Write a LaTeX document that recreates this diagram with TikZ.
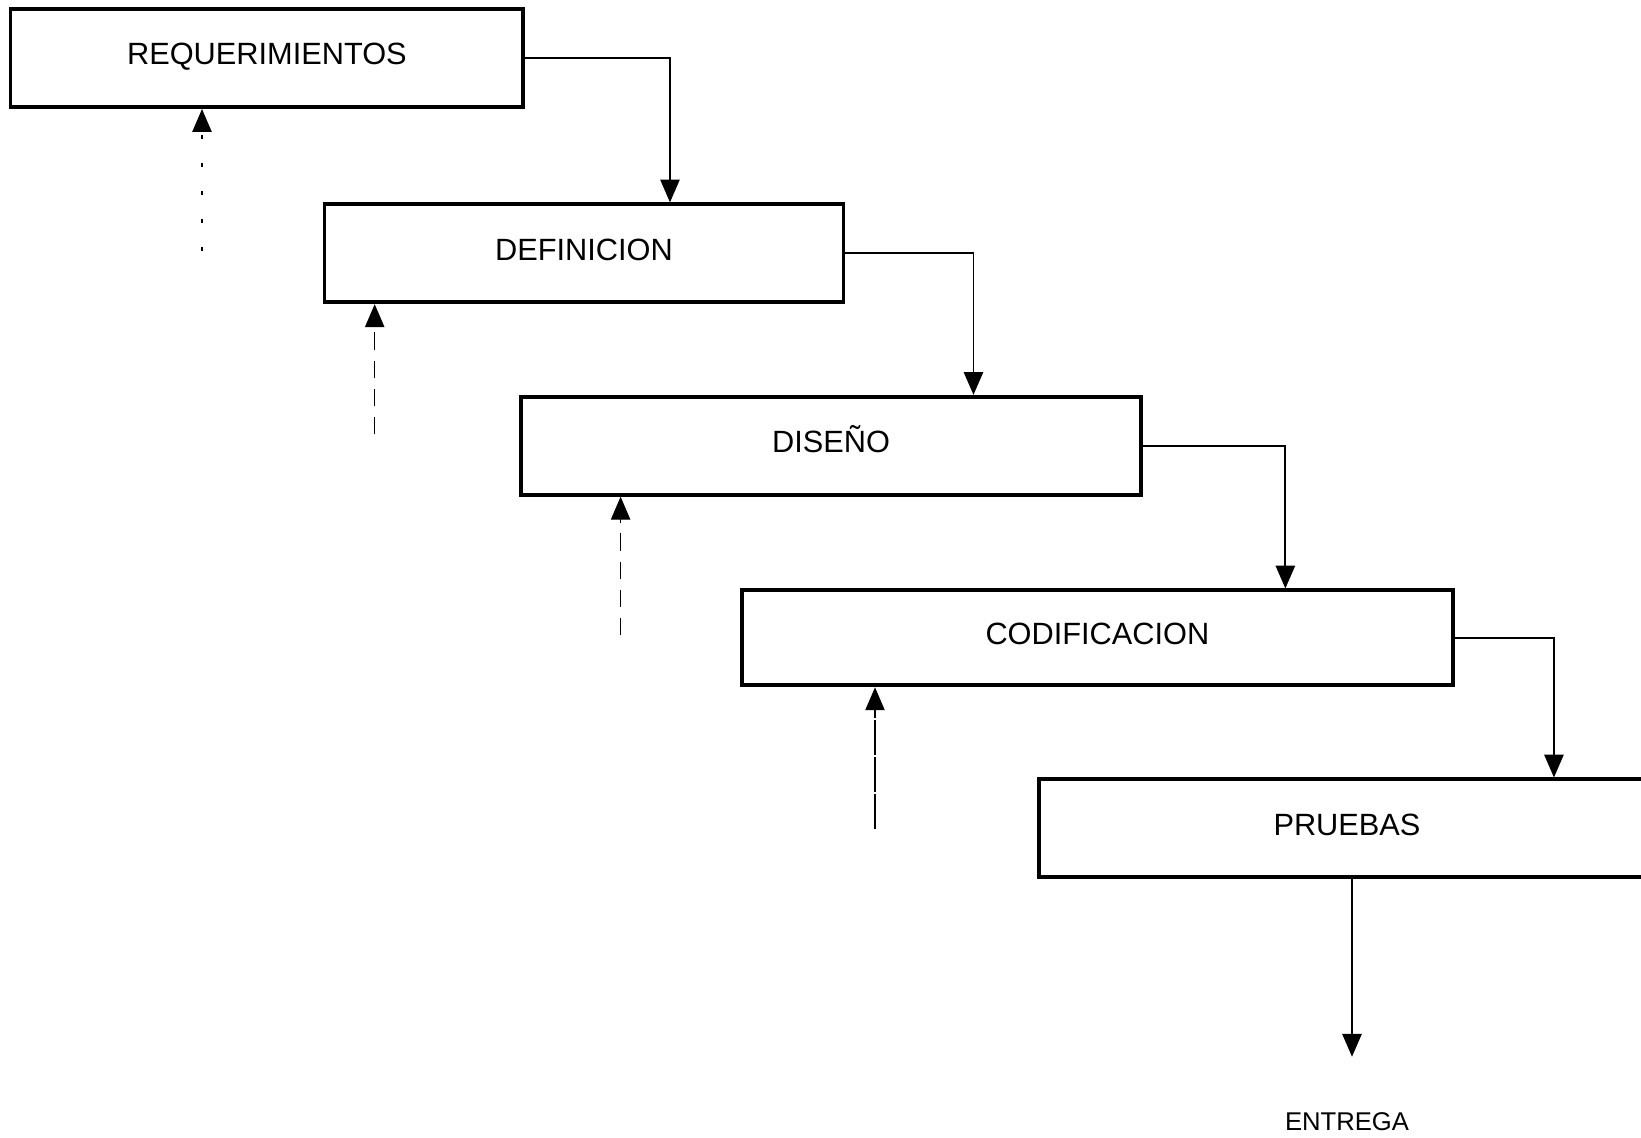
\documentclass[tikz,border=0pt]{standalone}
\usepackage{fontspec}
\setmainfont{Liberation Sans}
\usetikzlibrary{positioning}
\usetikzlibrary{arrows.meta}

\begin{document}
\begin{tikzpicture}[x=0.02cm,y=-0.02cm,>={Triangle[width=11pt,length=13pt]}]
\tikzstyle{etapa}=[rectangle,
  draw=black,line width=2.2pt,fill=white,text=black,
  font=\fontsize{17.5}{21}\selectfont,
  text height=12.5pt,text depth=4.8pt,
  minimum height=1.96cm
]

\tikzstyle{flujo}=[->,line width=1pt]

\tikzstyle{retorno}=[->,line width=0.6pt,dash pattern=on 10pt off 6pt]

\useasboundingbox (0,0) rectangle (1641,1138);
\clip (0,0) rectangle (1641,1138);

\node[etapa,minimum width=10.26cm] (A) at (266.9,58.1)  {REQUERIMIENTOS};
\node[etapa,minimum width=10.38cm] (B) at (584,253.3)   {DEFINICION};
\node[etapa,minimum width=12.39cm] (C) at (831,445.8)   {DISEÑO};
\node[etapa,minimum width=14.21cm,minimum height=1.9cm] (D) at (1097.4,637.9) {CODIFICACION};
\node[etapa,minimum width=12.31cm] (E) at (1347,828.4)  {PRUEBAS};
\node[font=\fontsize{14.6}{17}\selectfont] (F) at (1347,1122) {ENTREGA};

% cascada hacia abajo
\draw[flujo] (A.east) -| ([xshift=1.72cm]B.north);
\draw[flujo] (B.east) -| ([xshift=2.85cm]C.north);
\draw[flujo] (C.east) -| ([xshift=3.76cm]D.north);
\draw[flujo] (D.east) -| ([xshift=4.14cm]E.north);
\draw[flujo,shorten >=1cm] ([xshift=0.1cm]E.south) -- ([xshift=0.1cm]F.north);

% retornos punteados
\coordinate (r1) at (202,251);
\coordinate (r2) at (374.7,434.3);
\coordinate (r3) at (620.6,635.3);
\coordinate (r4) at (875,829);
\draw[retorno,dash pattern=on 2pt off 14pt] (r1) -- (r1 |- A.south);
\draw[retorno] (r2) -- (r2 |- B.south);
\draw[retorno] (r3) -- (r3 |- C.south);
\draw[retorno,dash pattern=on 20pt off 1pt] (r4) -- (r4 |- D.south);
\end{tikzpicture}
\end{document}
